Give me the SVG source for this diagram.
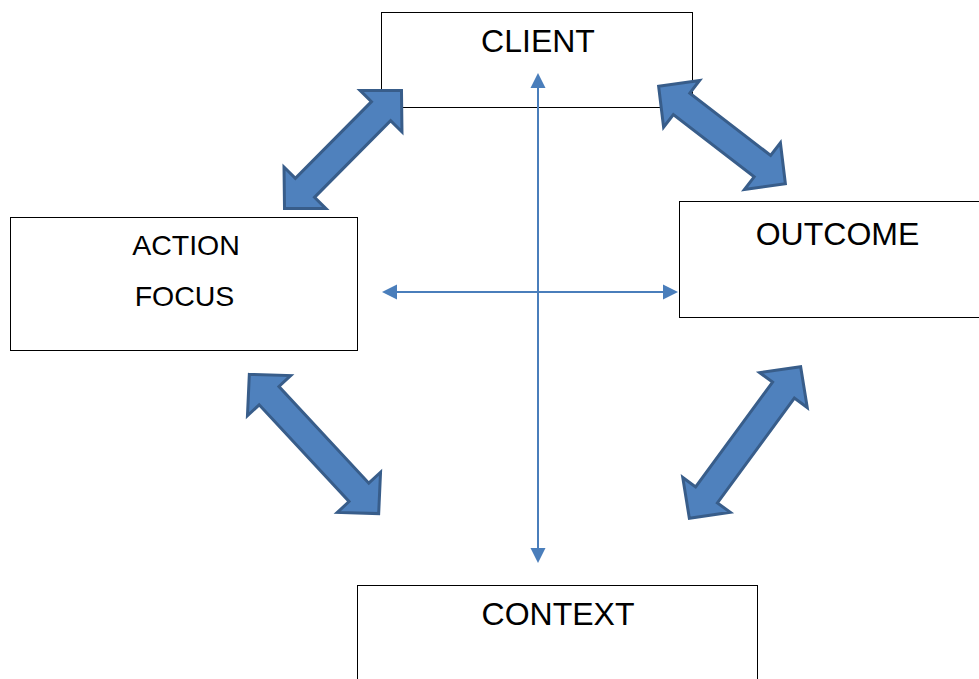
<svg xmlns="http://www.w3.org/2000/svg" width="979" height="679" viewBox="0 0 979 679">
  <style>
    .box { fill: #ffffff; stroke: #000000; stroke-width: 1; }
    .label { font-family: "Liberation Sans", Arial, sans-serif; fill: #000000; text-anchor: middle; }
    .big { font-size: 32px; }
    .mid { font-size: 28.5px; }
    .block { fill: #4f81bd; stroke: #385d8a; stroke-width: 3; stroke-linejoin: miter; stroke-miterlimit: 10; }
    .axis { stroke: #4a7ebb; stroke-width: 2; fill: none; }
  </style>
  <defs>
    <marker id="head" markerUnits="userSpaceOnUse" markerWidth="16" markerHeight="16" refX="0" refY="8" orient="auto-start-reverse" viewBox="0 0 16 16">
      <path d="M0,0.5 L15,8 L0,15.5 Z" fill="#4a7ebb"/>
    </marker>
  </defs>

  <rect width="979" height="679" fill="#ffffff"/>

  <!-- boxes -->
  <g id="client">
    <rect class="box" x="381.5" y="12.5" width="311" height="95"/>
    <text class="label big" x="538" y="51.5">CLIENT</text>
  </g>
  <g id="action-focus">
    <rect class="box" x="10.5" y="217.5" width="347" height="133"/>
    <text class="label mid" x="186" y="255">ACTION</text>
    <text class="label mid" x="184.5" y="306">FOCUS</text>
  </g>
  <g id="outcome">
    <rect class="box" x="679.5" y="201.5" width="310" height="116"/>
    <text class="label big" x="837.5" y="244.5">OUTCOME</text>
  </g>
  <g id="context">
    <rect class="box" x="357.5" y="585.5" width="400" height="110"/>
    <text class="label big" x="558" y="624.5">CONTEXT</text>
  </g>

  <!-- connectors -->
  <g id="connectors">
    <!-- crossing axes -->
    <line class="axis" x1="538" y1="88" x2="538" y2="548" marker-start="url(#head)" marker-end="url(#head)"/>
    <line class="axis" x1="397" y1="292" x2="663" y2="292" marker-start="url(#head)" marker-end="url(#head)"/>

    <!-- block double arrows -->
    <path class="block" transform="translate(343,149.5) rotate(-45.2)"
          d="M-83,0 L-54,-29.5 L-54,-13.5 L54,-13.5 L54,-29.5 L83,0 L54,29.5 L54,13.5 L-54,13.5 L-54,29.5 Z"/>
    <path class="block" transform="translate(722,135) rotate(37.6)"
          d="M-80,0 L-51,-29.5 L-51,-13.5 L51,-13.5 L51,-29.5 L80,0 L51,29.5 L51,13.5 L-51,13.5 L-51,29.5 Z"/>
    <path class="block" transform="translate(314,444) rotate(47.1)"
          d="M-95,0 L-66,-29.5 L-66,-13.5 L66,-13.5 L66,-29.5 L95,0 L66,29.5 L66,13.5 L-66,13.5 L-66,29.5 Z"/>
    <path class="block" transform="translate(745,442.5) rotate(-53.7)"
          d="M-94,0 L-65,-29.5 L-65,-13.5 L65,-13.5 L65,-29.5 L94,0 L65,29.5 L65,13.5 L-65,13.5 L-65,29.5 Z"/>
  </g>
</svg>
